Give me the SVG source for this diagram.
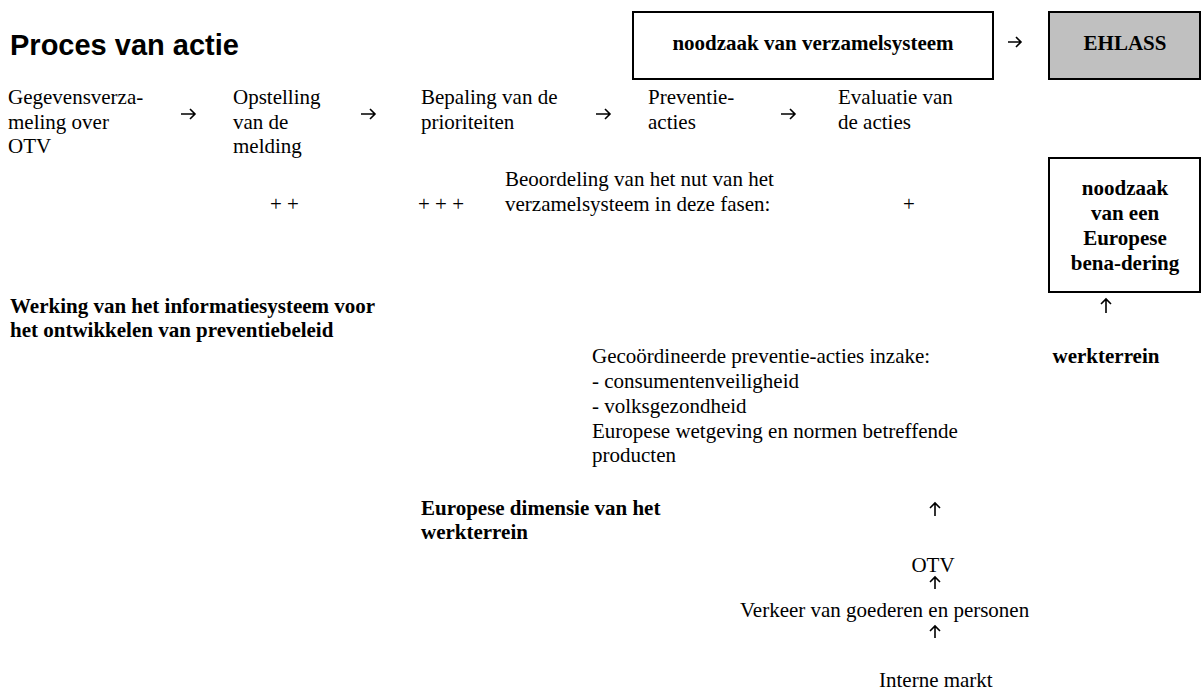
<svg xmlns="http://www.w3.org/2000/svg" width="1201" height="690" viewBox="0 0 1201 690">
<style>
.t{font-family:"Liberation Serif","Times New Roman",serif;font-size:21px;fill:#000}
.b{font-family:"Liberation Serif","Times New Roman",serif;font-size:21px;font-weight:bold;fill:#000}
.h{font-family:"Liberation Sans",Arial,sans-serif;font-size:29px;font-weight:bold;fill:#000}
.box{fill:#fff;stroke:#000;stroke-width:2}
.grey{fill:#C0C0C0;stroke:#000;stroke-width:2}
.arr{fill:none;stroke:#000;stroke-width:1.6}
</style>
<rect width="1201" height="690" fill="#fff"/>
<g id="title"><text class="h" x="10" y="55">Proces van actie</text></g>
<g id="noodzaak-verzamelsysteem"><rect class="box" x="633" y="12" width="360" height="67"/><text class="b" x="813" y="50" text-anchor="middle">noodzaak van verzamelsysteem</text></g>
<g id="ehlass"><rect class="grey" x="1049" y="12" width="151" height="67"/><text class="b" x="1125" y="50" text-anchor="middle">EHLASS</text></g>
<g id="gegevensverzameling"><text class="t" x="8" y="104">Gegevensverza-</text><text class="t" x="8" y="128.5">meling over</text><text class="t" x="8" y="153">OTV</text></g>
<g id="opstelling"><text class="t" x="233" y="104">Opstelling</text><text class="t" x="233" y="128.5">van de</text><text class="t" x="233" y="153">melding</text></g>
<g id="bepaling"><text class="t" x="421" y="104">Bepaling van de</text><text class="t" x="421" y="128.5">prioriteiten</text></g>
<g id="preventie"><text class="t" x="648" y="104">Preventie-</text><text class="t" x="648" y="128.5">acties</text></g>
<g id="evaluatie"><text class="t" x="838" y="104">Evaluatie van</text><text class="t" x="838" y="128.5">de acties</text></g>
<g id="beoordeling"><text class="t" x="505" y="186">Beoordeling van het nut van het</text><text class="t" x="505" y="210.5">verzamelsysteem in deze fasen:</text></g>
<g id="scores"><text class="t" x="270" y="210.5">+ +</text><text class="t" x="418" y="210.5">+ + +</text><text class="t" x="903" y="210.5">+</text></g>
<g id="europese-benadering"><rect class="box" x="1049" y="158" width="151" height="134"/><text class="b" x="1125" y="195" text-anchor="middle">noodzaak</text><text class="b" x="1125" y="220" text-anchor="middle">van een</text><text class="b" x="1125" y="245" text-anchor="middle">Europese</text><text class="b" x="1125" y="270" text-anchor="middle">bena-dering</text></g>
<g id="werking"><text class="b" x="10" y="313">Werking van het informatiesysteem voor</text><text class="b" x="10" y="337">het ontwikkelen van preventiebeleid</text></g>
<g id="werkterrein"><text class="b" x="1106" y="363" text-anchor="middle">werkterrein</text></g>
<g id="gecoordineerde"><text class="t" x="592" y="363">Gecoördineerde preventie-acties inzake:</text><text class="t" x="592" y="388">- consumentenveiligheid</text><text class="t" x="592" y="413">- volksgezondheid</text><text class="t" x="592" y="438">Europese wetgeving en normen betreffende</text><text class="t" x="592" y="462">producten</text></g>
<g id="europese-dimensie"><text class="b" x="421" y="515">Europese dimensie van het</text><text class="b" x="421" y="539">werkterrein</text></g>
<g id="otv"><text class="t" x="933" y="572" text-anchor="middle">OTV</text></g>
<g id="verkeer"><text class="t" x="740" y="617">Verkeer van goederen en personen</text></g>
<g id="interne-markt"><text class="t" x="879" y="687">Interne markt</text></g>
<g id="connectors">
<path class="arr" d="M1008 42H1021M1016 37L1021 42L1016 47"/>
<path class="arr" d="M181 114H195M190 109L195 114L190 119"/>
<path class="arr" d="M361 114H375M370 109L375 114L370 119"/>
<path class="arr" d="M596 114H610M605 109L610 114L605 119"/>
<path class="arr" d="M781 114H795M790 109L795 114L790 119"/>
<path class="arr" d="M1106 313V299M1101 304L1106 299L1111 304"/>
<path class="arr" d="M935 516V503M930 508L935 503L940 508"/>
<path class="arr" d="M935 589V577M930 582L935 577L940 582"/>
<path class="arr" d="M935 638V626M930 631L935 626L940 631"/>
</g>
</svg>
